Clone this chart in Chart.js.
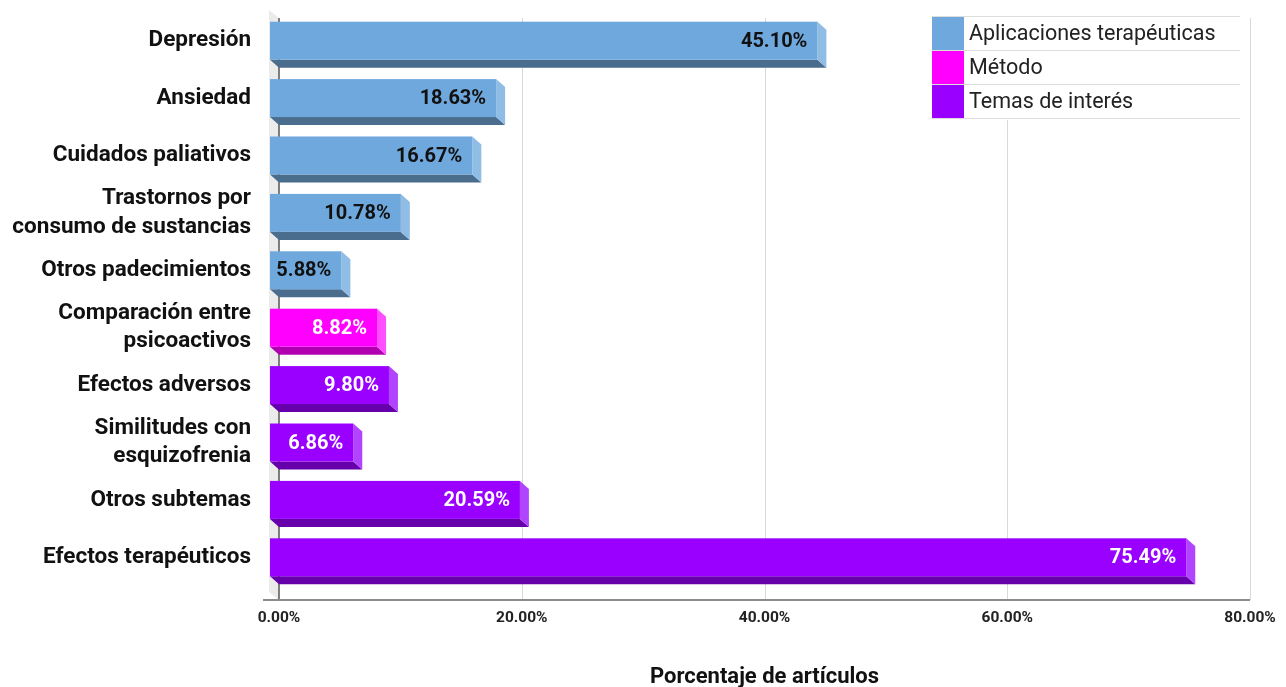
<!DOCTYPE html>
<html>
<head>
<meta charset="utf-8">
<script src="https://cdn.jsdelivr.net/npm/chart.js@4/dist/chart.umd.min.js"></script>
<style>
  html, body { margin: 0; padding: 0; background: #fff; }
</style>
</head>
<body>
<canvas id="chart" width="1286" height="687"></canvas>
<script>
// Datos
const categories = [
  "Depresión",
  "Ansiedad",
  "Cuidados paliativos",
  ["Trastornos por", "consumo de sustancias"],
  "Otros padecimientos",
  ["Comparación entre", "psicoactivos"],
  "Efectos adversos",
  ["Similitudes con", "esquizofrenia"],
  "Otros subtemas",
  "Efectos terapéuticos"
];
const values = [45.10, 18.63, 16.67, 10.78, 5.88, 8.82, 9.80, 6.86, 20.59, 75.49];
const groupOf = [0, 0, 0, 0, 0, 1, 2, 2, 2, 2];
const groupNames = ["Aplicaciones terapéuticas", "Método", "Temas de interés"];

// Colores por grupo (cara frontal, cara inferior, cara lateral, texto)
const frontColors = ["#6fa8dc", "#ff00ff", "#9900ff"];
const bottomColors = ["#4a6d8e", "#b000b0", "#6600aa"];
const sideColors = ["#8fbde6", "#ff4dff", "#b145ff"];
const labelColors = ["#111111", "#ffffff", "#ffffff"];

const DX = 9, DY = 8; // profundidad 3D
const FONT = "Roboto, sans-serif";

// Pared, rejilla, barras 3D y leyenda
const backdropPlugin = {
  id: "backdrop",
  beforeDatasetsDraw(chart) {
    const { ctx, chartArea: a, scales: { x } } = chart;
    const x0 = x.getPixelForValue(0);
    const top = a.top - 2;
    const bottom = a.bottom + 6;
    ctx.save();
    // pared izquierda
    ctx.fillStyle = "#ebebeb";
    ctx.beginPath();
    ctx.moveTo(x0 - DX - 1, top - DY);
    ctx.lineTo(x0, top);
    ctx.lineTo(x0, bottom);
    ctx.lineTo(x0 - DX - 1, bottom - DY);
    ctx.closePath();
    ctx.fill();
    // rejilla
    x.ticks.forEach((t) => {
      if (t.value === 0) return;
      const px = Math.round(x.getPixelForValue(t.value)) + 0.5;
      ctx.strokeStyle = "#d9d9d9";
      ctx.lineWidth = 1;
      ctx.beginPath();
      ctx.moveTo(px, top);
      ctx.lineTo(px, bottom);
      ctx.stroke();
    });
    // linea cero
    ctx.strokeStyle = "#555";
    ctx.lineWidth = 1.5;
    ctx.beginPath();
    ctx.moveTo(x0, top);
    ctx.lineTo(x0, bottom);
    ctx.stroke();
    // eje inferior
    ctx.strokeStyle = "#8c8c8c";
    ctx.lineWidth = 2;
    ctx.beginPath();
    ctx.moveTo(x0 - 16, bottom);
    ctx.lineTo(x.getPixelForValue(80), bottom);
    ctx.stroke();
    ctx.restore();
  },
  afterDatasetsDraw(chart) {
    const { ctx } = chart;
    const meta = chart.getDatasetMeta(0);
    ctx.save();
    meta.data.forEach((bar, i) => {
      const { x, y, base, height } = bar.getProps(["x", "y", "base", "height"], true);
      const g = groupOf[i];
      const t = y - height / 2, b = y + height / 2;
      // cara inferior
      ctx.fillStyle = bottomColors[g];
      ctx.beginPath();
      ctx.moveTo(base - DX, b - DY);
      ctx.lineTo(x - DX, b - DY);
      ctx.lineTo(x, b);
      ctx.lineTo(base, b);
      ctx.closePath();
      ctx.fill();
      // cara lateral
      ctx.fillStyle = sideColors[g];
      ctx.beginPath();
      ctx.moveTo(x - DX, t - DY);
      ctx.lineTo(x, t);
      ctx.lineTo(x, b);
      ctx.lineTo(x - DX, b - DY);
      ctx.closePath();
      ctx.fill();
      // cara frontal
      ctx.fillStyle = frontColors[g];
      ctx.fillRect(base - DX, t - DY, x - base, height);
      // etiqueta
      ctx.font = "bold 20px " + FONT;
      ctx.fillStyle = labelColors[g];
      ctx.textAlign = "right";
      ctx.textBaseline = "middle";
      ctx.fillText(values[i].toFixed(2) + "%", x - DX - 10, y - DY + 1);
    });
    ctx.restore();
  },
  afterDraw(chart) {
    // leyenda tipo tabla
    const { ctx } = chart;
    const lx = 932, ly = 17, rowH = 34, boxW = 32, lw = 308;
    ctx.save();
    ctx.fillStyle = "#ffffff";
    ctx.fillRect(lx, ly - 1, lw, rowH * groupNames.length + 2);
    groupNames.forEach((name, i) => {
      const ry = ly + i * rowH;
      ctx.fillStyle = frontColors[i];
      ctx.fillRect(lx, ry, boxW, rowH);
      ctx.fillStyle = "#222";
      ctx.font = "21.5px " + FONT;
      ctx.textAlign = "left";
      ctx.textBaseline = "middle";
      ctx.fillText(name, lx + boxW + 5, ry + rowH / 2 + 1);
    });
    ctx.strokeStyle = "#dddddd";
    ctx.lineWidth = 1;
    for (let i = 0; i <= groupNames.length; i++) {
      const yy = Math.round(ly + i * rowH) - 0.5;
      ctx.beginPath();
      ctx.moveTo(lx, yy);
      ctx.lineTo(lx + lw, yy);
      ctx.stroke();
    }
    ctx.restore();
  }
};

new Chart(document.getElementById("chart"), {
  type: "bar",
  data: {
    labels: categories,
    datasets: [{
      label: "Porcentaje",
      data: values,
      backgroundColor: "rgba(0,0,0,0)",
      barThickness: 38
    }]
  },
  options: {
    responsive: false,
    animation: false,
    indexAxis: "y",
    layout: { padding: { top: 20, right: 36, left: 0, bottom: 0 } },
    plugins: {
      legend: { display: false },
      tooltip: { enabled: false }
    },
    scales: {
      x: {
        min: 0,
        max: 80,
        grid: { display: false, drawTicks: false },
        border: { display: false },
        ticks: {
          stepSize: 20,
          padding: 15,
          color: "#222",
          maxRotation: 0,
          font: { family: FONT, weight: "bold", size: 15.5 },
          callback: (v) => v.toFixed(2) + "%"
        },
        title: {
          display: true,
          text: "Porcentaje de artículos",
          color: "#111",
          font: { family: FONT, weight: "bold", size: 22 },
          padding: { top: 0, bottom: -4 }
        },
        afterFit(s) {
          s.height = 93;
          s.paddingLeft = 0;
          s.paddingRight = 0;
        }
      },
      y: {
        grid: { display: false, drawTicks: false },
        border: { display: false },
        ticks: {
          autoSkip: false,
          padding: 28,
          labelOffset: -8,
          color: "#111",
          font: { family: FONT, weight: "bold", size: 22.5, lineHeight: 1.25 }
        },
        afterFit(s) {
          s.width = 279;
          s.paddingTop = 0;
          s.paddingBottom = 0;
        }
      }
    }
  },
  plugins: [backdropPlugin]
});
</script>
</body>
</html>
